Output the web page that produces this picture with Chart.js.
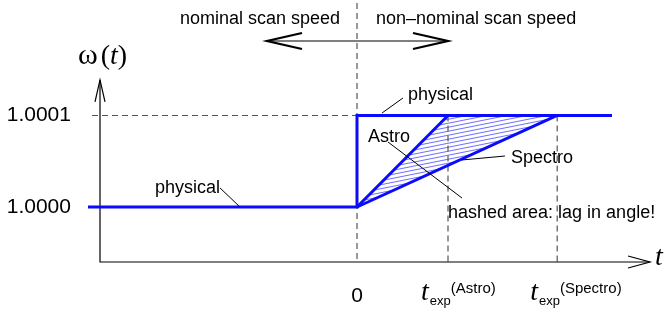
<!DOCTYPE html>
<html>
<head>
<meta charset="utf-8">
<script src="https://cdn.jsdelivr.net/npm/chart.js@4.4.0/dist/chart.umd.min.js"></script>
<style>
body { margin: 0; background: #fff; }
</style>
</head>
<body>
<canvas id="omegaChart" width="666" height="312"></canvas>
<script>
// w = (omega - 1.0000) / 1e-4, t in units of t_exp(Astro)
var physicalT = [-2.956, 0, 0, 2.802];
var physicalW = [0, 0, 1, 1];
var astroT = [0, 1];
var astroW = [0, 1];
var spectroT = [0, 2.2];
var spectroW = [0, 1];

var yTicks = [0, 1];
var yTickLabels = ['1.0000', '1.0001'];
var texpTicks = [1, 2.2];
var texpNames = ['(Astro)', '(Spectro)'];

// axis frame (data units)
var axisT0 = -2.824, axisW0 = -0.601;
var axisTEnd = 3.22, axisWEnd = 1.388;

var notes = [
    { text: 'nominal scan speed', t: -1.945, w: 2.0 },
    { text: 'non\u2013nominal scan speed', t: 0.209, w: 2.0 },
    { text: 'physical', t: 0.56, w: 1.169, lead: [0.275, 1.027, 0.505, 1.191] },
    { text: 'physical', t: -2.22, w: 0.153, lead: [-1.505, 0.208, -1.286, 0] },
    { text: 'Astro', t: 0.121, w: 0.71 },
    { text: 'Spectro', t: 1.692, w: 0.481, lead: [1.154, 0.514, 1.626, 0.557] },
    { text: 'hashed area: lag in angle!', t: 1.0, w: -0.12, lead: [0.341, 0.71, 1.154, 0.098] },
];

var BLUE = '#0a0aff';
var DASH = '#555';
var SANS = '"Liberation Sans", Arial, sans-serif';
var SERIF = '"Liberation Serif", "Times New Roman", serif';

function pts(xs, ys) {
    return xs.map(function (x, i) { return { x: x, y: ys[i] }; });
}

function line(data, color, width, dash) {
    return {
        data: data,
        showLine: true,
        borderColor: color,
        borderWidth: width,
        borderDash: dash || [],
        pointRadius: 0,
        tension: 0,
        fill: false,
    };
}

function arrowHead(ctx, tx, ty, dx, dy, len, half) {
    // dx,dy = unit direction of the arrow
    var bx = tx - dx * len, by = ty - dy * len;
    ctx.beginPath();
    ctx.moveTo(bx - dy * half, by + dx * half);
    ctx.lineTo(tx, ty);
    ctx.lineTo(bx + dy * half, by - dx * half);
    ctx.stroke();
}

var decor = {
    id: 'decor',
    beforeDatasetsDraw: function (chart) {
        var ctx = chart.ctx, sx = chart.scales.x, sy = chart.scales.y;
        // hatching between Astro and Spectro
        var p0 = [sx.getPixelForValue(0), sy.getPixelForValue(0)];
        var p1 = [sx.getPixelForValue(astroT[1]), sy.getPixelForValue(astroW[1])];
        var p2 = [sx.getPixelForValue(spectroT[1]), sy.getPixelForValue(spectroW[1])];
        ctx.save();
        ctx.beginPath();
        ctx.moveTo(p0[0], p0[1]);
        ctx.lineTo(p1[0], p1[1]);
        ctx.lineTo(p2[0], p2[1]);
        ctx.closePath();
        ctx.clip();
        ctx.strokeStyle = BLUE;
        ctx.lineWidth = 0.6;
        var slope = -0.2;
        for (var y = p1[1] - 60; y < p0[1] + 60; y += 4) {
            ctx.beginPath();
            ctx.moveTo(p0[0] - 10, y);
            ctx.lineTo(p2[0] + 10, y + slope * (p2[0] - p0[0] + 20));
            ctx.stroke();
        }
        ctx.restore();
    },
    afterDatasetsDraw: function (chart) {
        var ctx = chart.ctx, sx = chart.scales.x, sy = chart.scales.y;
        var X = function (v) { return sx.getPixelForValue(v); };
        var Y = function (v) { return sy.getPixelForValue(v); };
        ctx.save();
        ctx.strokeStyle = '#000';
        ctx.lineWidth = 1.2;
        arrowHead(ctx, X(axisTEnd), Y(axisW0), 1, 0, 22, 6);
        arrowHead(ctx, X(axisT0), Y(axisWEnd), 0, -1, 22, 5);

        // double arrow at the top
        var ay = Y(1.814);
        ctx.lineWidth = 1.2;
        ctx.beginPath();
        ctx.moveTo(X(-0.989), ay);
        ctx.lineTo(X(1.0), ay);
        ctx.stroke();
        ctx.lineWidth = 2.2;
        arrowHead(ctx, X(-0.989), ay, -1, 0, 35, 8);
        arrowHead(ctx, X(1.0), ay, 1, 0, 35, 8);

        // notes and leader lines
        ctx.fillStyle = '#000';
        ctx.font = '18px ' + SANS;
        ctx.textBaseline = 'alphabetic';
        ctx.textAlign = 'left';
        ctx.lineWidth = 1;
        notes.forEach(function (n) {
            ctx.fillText(n.text, X(n.t), Y(n.w));
            if (n.lead) {
                ctx.beginPath();
                ctx.moveTo(X(n.lead[0]), Y(n.lead[1]));
                ctx.lineTo(X(n.lead[2]), Y(n.lead[3]));
                ctx.stroke();
            }
        });

        // y tick labels
        ctx.font = '21px ' + SANS;
        ctx.textAlign = 'right';
        ctx.textBaseline = 'middle';
        yTicks.forEach(function (v, i) {
            ctx.fillText(yTickLabels[i], X(-3.143), Y(v));
        });

        // x tick labels
        ctx.textAlign = 'center';
        ctx.fillText('0', X(0), 296);
        ctx.textAlign = 'left';
        ctx.textBaseline = 'alphabetic';
        texpTicks.forEach(function (v, i) {
            var x = X(v) - 27;
            ctx.font = 'italic 28px ' + SERIF;
            ctx.fillText('t', x, 300);
            x += ctx.measureText('t').width + 1;
            ctx.font = '13px ' + SANS;
            ctx.fillText('exp', x, 305);
            x += ctx.measureText('exp').width;
            ctx.font = '15px ' + SANS;
            ctx.fillText(texpNames[i], x, 293);
        });

        // axis titles
        ctx.font = 'italic 28px ' + SERIF;
        ctx.fillText('t', X(3.275), 265);
        var x = 78;
        ctx.font = '30px ' + SERIF;
        ctx.fillText('\u03c9', x, 64);
        x += ctx.measureText('\u03c9').width + 3;
        ctx.font = '28px ' + SERIF;
        ctx.fillText('(', x, 64);
        x += ctx.measureText('(').width;
        ctx.font = 'italic 28px ' + SERIF;
        ctx.fillText('t', x, 64);
        x += ctx.measureText('t').width;
        ctx.font = '28px ' + SERIF;
        ctx.fillText(')', x, 64);
        ctx.restore();
    }
};

var ctx = document.getElementById('omegaChart');
var myChart = new Chart(ctx, {
    type: 'scatter',
    plugins: [decor],
    data: {
        datasets: [
            line(pts(physicalT, physicalW), BLUE, 3),
            line(pts(astroT, astroW), BLUE, 3),
            line(pts(spectroT, spectroW), BLUE, 3),
            line(pts([axisT0, axisT0, axisTEnd], [axisWEnd, axisW0, axisW0]), '#000', 1.2),
            line(pts([-2.912, 0], [1, 1]), DASH, 1.2, [6, 4]),
            line(pts([0, 0], [2.23, axisW0]), DASH, 1.2, [6, 4]),
            line(pts([texpTicks[0], texpTicks[0]], [1, axisW0]), DASH, 1.2, [6, 4]),
            line(pts([texpTicks[1], texpTicks[1]], [1, axisW0]), DASH, 1.2, [6, 4]),
        ]
    },
    options: {
        responsive: false,
        animation: false,
        layout: { padding: 0 },
        plugins: {
            legend: { display: false },
            tooltip: { enabled: false },
        },
        scales: {
            x: { type: 'linear', min: -3.923, max: 3.3956, display: false },
            y: { type: 'linear', min: -1.1475, max: 2.262, display: false },
        },
    },
});
</script>
</body>
</html>
